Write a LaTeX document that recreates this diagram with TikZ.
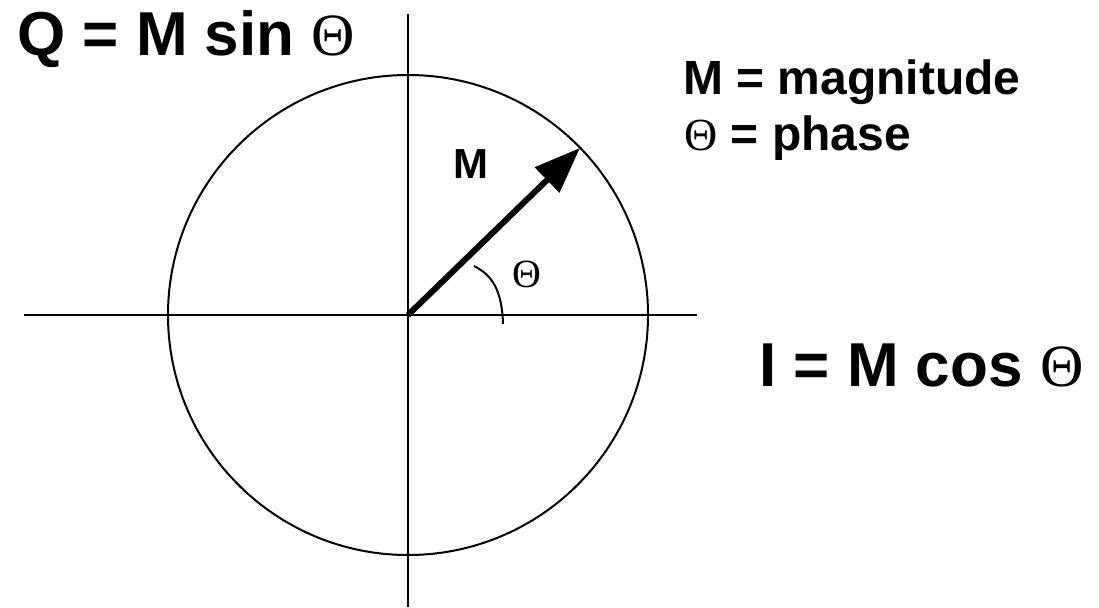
\documentclass[tikz,border=0pt]{standalone}
\usepackage{fontspec}
\setmainfont{Liberation Sans}
\newfontfamily\thetafont{Liberation Serif}
\usetikzlibrary{arrows.meta}
\newcommand{\Th}[1]{{\fontsize{#1}{#1}\thetafont\mdseries\selectfont Θ}}
\tikzset{
  axis/.style={line width=2pt},
  big/.style={inner sep=0pt, anchor=base west, font=\bfseries\fontsize{62}{62}\selectfont},
  mid/.style={inner sep=0pt, anchor=base west, font=\bfseries\fontsize{48}{48}\selectfont},
}
\begin{document}
\begin{tikzpicture}[x=1pt,y=-1pt]
\useasboundingbox (0,0) rectangle (1099,607);
\coordinate (O) at (408,315);
\coordinate (L) at (24,315);
\coordinate (R) at (697,315);
\coordinate (T) at (408,14);
\coordinate (B) at (408,607);
\coordinate (P) at (580,148);
\coordinate (A1) at (503,324);
\coordinate (A2) at (474,266);
\draw[axis] (L) -- (R);
\draw[axis] (T) -- (B);
\draw[axis] (O) circle[radius=240];
\draw[line width=6pt, -{Triangle[length=46pt,width=34pt]}] (O) -- (P);
\draw[line width=2pt] (A1) .. controls (502,290) and (492,275) .. (A2);
\node[big] (q) at (17,56) {Q = M sin \Th{60}};
\node[big] (i) at (759,386) {I = M cos \Th{60}};
\node[mid] (m1) at (683,95) {M = magnitude};
\node[mid] (m2) at (684,150) {\Th{46} = phase};
\node[inner sep=0pt, anchor=base west, font=\bfseries\fontsize{42}{42}\selectfont] (ml) at (453,178) {M};
\node[inner sep=0pt] (th) at (527,274) {\Th{40}};
\end{tikzpicture}
\end{document}
